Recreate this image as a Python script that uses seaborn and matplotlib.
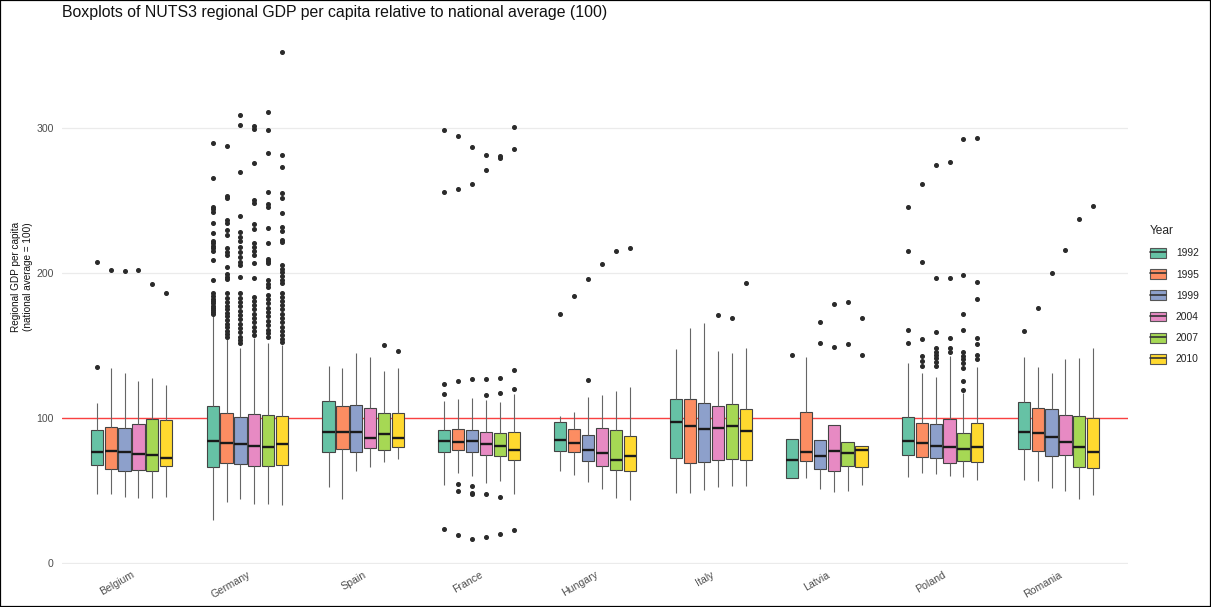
import numpy as np
import pandas as pd
import matplotlib
matplotlib.use("Agg")
import matplotlib.pyplot as plt
from matplotlib.patches import Patch, Rectangle
from matplotlib.lines import Line2D
import seaborn as sns

# ---------------- data ----------------
countries = ["Belgium", "Germany", "Spain", "France", "Hungary",
             "Italy", "Latvia", "Poland", "Romania"]
years = ["1992", "1995", "1999", "2004", "2007", "2010"]

# five-number summaries per country (rows) and year (columns)
whisk_lo = [
    [47.1, 47.1, 45.5, 44.6, 44.6, 45.3],
    [29.4, 42.0, 43.9, 40.4, 40.4, 39.7],
    [52.0, 43.7, 63.5, 65.8, 69.2, 71.3],
    [53.6, 62.1, 59.8, 54.7, 56.3, 47.5],
    [63.2, 60.5, 55.8, 50.6, 44.4, 43.4],
    [47.8, 47.8, 49.9, 52.4, 52.9, 53.1],
    [58.6, 58.2, 50.6, 48.9, 49.4, 53.6],
    [59.3, 61.6, 61.0, 60.0, 58.9, 57.0],
    [56.8, 56.3, 51.7, 49.4, 43.9, 46.4],
]
q1 = [
    [67.2, 64.6, 63.4, 64.1, 63.4, 66.7],
    [65.8, 68.6, 68.3, 66.7, 66.9, 67.6],
    [76.2, 78.2, 76.6, 79.1, 77.5, 79.6],
    [76.2, 78.0, 76.6, 74.3, 73.8, 70.8],
    [77.3, 76.2, 69.9, 66.5, 63.7, 63.4],
    [72.2, 68.8, 69.5, 70.6, 71.3, 70.6],
    [58.6, 70.1, 64.4, 63.5, 66.5, 66.2],
    [74.3, 72.7, 72.0, 69.0, 70.1, 69.7],
    [78.6, 76.8, 73.8, 74.3, 65.8, 65.1],
]
median = [
    [76.2, 77.1, 76.6, 75.0, 74.3, 72.4],
    [83.8, 82.4, 81.7, 80.7, 80.0, 82.1],
    [90.4, 90.0, 90.0, 86.3, 88.6, 86.3],
    [84.0, 83.1, 84.0, 82.1, 80.7, 77.7],
    [84.4, 82.4, 77.7, 75.5, 71.1, 73.6],
    [96.9, 94.1, 92.0, 93.0, 94.1, 90.7],
    [70.8, 76.6, 73.4, 77.3, 75.5, 77.7],
    [84.2, 82.4, 80.7, 80.0, 78.4, 80.0],
    [90.2, 89.5, 86.7, 83.1, 80.0, 76.6],
]
q3 = [
    [91.4, 93.4, 92.7, 95.9, 99.2, 98.3],
    [107.9, 103.1, 100.8, 102.4, 101.9, 101.2],
    [111.6, 108.2, 108.8, 107.0, 103.3, 103.3],
    [91.4, 92.5, 91.8, 90.0, 89.3, 90.0],
    [97.3, 92.5, 88.1, 93.2, 91.8, 87.6],
    [113.0, 112.8, 110.4, 108.2, 109.3, 105.9],
    [85.1, 103.8, 84.4, 94.8, 83.1, 80.3],
    [100.8, 96.2, 95.5, 99.0, 89.3, 96.2],
    [110.7, 106.8, 106.3, 102.1, 101.5, 99.7],
]
whisk_hi = [
    [110.4, 134.2, 130.7, 125.4, 127.3, 122.7],
    [170.5, 154.5, 148.0, 155.0, 151.5, 150.5],
    [135.8, 134.4, 144.6, 142.2, 132.6, 134.2],
    [111.8, 113.0, 113.7, 112.3, 110.7, 116.2],
    [101.2, 103.8, 114.4, 115.5, 118.5, 121.3],
    [147.5, 162.1, 165.3, 145.9, 144.6, 148.0],
    [85.1, 142.2, 84.4, 94.8, 83.1, 80.3],
    [137.6, 131.0, 128.4, 142.7, 116.9, 134.9],
    [142.0, 134.9, 130.7, 140.8, 141.1, 148.0],
]

# outlying regions per country, one list per year
out_belgium = [[134.9, 207.5], [202.1], [201.5], [202.1], [192.3], [186.2]]
out_germany = [
    [290.1, 265.5, 245.9, 244.1, 242.4, 234.4, 227.5, 222.2, 220.6, 218.7, 217.1,
     215.3, 209.1, 195.2, 186.0, 184.0, 182.0, 180.5, 179.0, 177.5, 176.0, 174.5,
     173.0, 172.0],
    [287.8, 253.3, 251.7, 236.7, 234.9, 229.8, 226.3, 217.1, 214.8, 212.5, 204.0,
     199.2, 197.5, 195.7, 186.0, 183.0, 180.0, 177.5, 175.0, 172.5, 170.0, 167.5,
     165.0, 162.5, 160.0, 158.0, 156.0],
    [309.3, 301.9, 269.7, 239.7, 228.6, 225.0, 222.0, 218.3, 214.8, 211.0, 207.5,
     205.6, 197.5, 186.0, 183.0, 180.0, 177.0, 174.0, 171.0, 168.0, 165.0, 162.0,
     159.0, 156.0, 153.5, 151.6],
    [301.2, 299.4, 276.3, 250.5, 248.6, 233.7, 230.3, 220.8, 218.0, 215.0, 212.5,
     207.0, 196.6, 183.7, 181.0, 178.0, 175.0, 172.0, 169.0, 166.0, 163.0, 160.0,
     157.0],
    [311.3, 299.1, 283.0, 256.0, 247.5, 245.9, 231.0, 220.6, 210.0, 208.5, 207.0,
     195.0, 192.5, 190.6, 185.0, 182.0, 179.0, 176.0, 173.0, 170.0, 167.0, 164.0,
     161.0, 158.5, 156.0],
    [352.8, 281.6, 273.1, 255.6, 252.1, 241.3, 232.1, 229.1, 222.9, 221.3, 205.6,
     203.0, 200.5, 198.0, 195.5, 193.2, 186.0, 183.7, 181.0, 178.0, 175.0, 172.0,
     169.0, 166.0, 163.0, 160.0, 157.0, 154.5, 152.5],
]
out_spain = [[], [], [], [], [150.3], [146.4]]
out_france = [
    [298.7, 256.3, 123.6, 116.7, 23.4],
    [294.5, 258.3, 125.2, 54.0, 49.4, 18.8],
    [287.1, 261.6, 127.0, 52.7, 48.2, 47.1, 16.2],
    [281.4, 271.3, 126.6, 116.0, 47.5, 17.4],
    [280.5, 279.1, 127.3, 117.1, 45.3, 19.9],
    [300.8, 286.0, 133.0, 120.1, 22.7],
]
out_hungary = [[171.5], [184.0], [195.9, 126.1], [206.5], [215.1], [217.6]]
out_italy = [[], [], [], [170.8], [169.2], [193.2]]
out_latvia = [[143.4], [], [166.2, 151.7], [178.4, 149.2], [179.8, 150.8],
              [168.8, 143.4]]
out_poland = [
    [245.7, 215.1, 160.5, 151.9],
    [261.8, 207.9, 154.5, 142.7, 139.3, 135.8],
    [274.9, 196.4, 159.1, 148.0, 145.7, 143.4, 141.1, 138.8, 135.8],
    [277.0, 196.8, 154.9, 148.0, 145.7],
    [292.5, 198.7, 171.7, 160.5, 145.3, 142.7, 140.4, 137.7, 134.2, 125.4, 119.0],
    [293.2, 194.1, 182.1, 154.9, 151.0, 143.4, 140.4],
]
out_romania = [[160.2], [176.1], [200.1], [216.2], [237.4], [246.2]]

outliers = [out_belgium, out_germany, out_spain, out_france, out_hungary,
            out_italy, out_latvia, out_poland, out_romania]

palette = ["#66C2A5", "#FC8D62", "#8DA0CB", "#E78AC3", "#A6D854", "#FFD92F"]

# ------------- long table whose quartiles/whiskers reproduce the summaries -------------
rows = []
for ci, c in enumerate(countries):
    for yi, yr in enumerate(years):
        outs = outliers[ci][yi]
        n_lo = 1 + sum(v < q1[ci][yi] for v in outs)
        n_hi = 1 + sum(v > q3[ci][yi] for v in outs)
        m = 3 * (n_lo + n_hi) + 5
        vals = (list(outs) + [whisk_lo[ci][yi]] + [q1[ci][yi]] * m
                + [median[ci][yi]] * m + [q3[ci][yi]] * m + [whisk_hi[ci][yi]])
        rows += [(c, yr, v) for v in vals]
df = pd.DataFrame(rows, columns=["country", "year", "value"])

# ---------------- figure ----------------
sns.set_style("white")
plt.rcParams["font.family"] = ["Liberation Sans", "DejaVu Sans"]

fig = plt.figure(figsize=(12.11, 6.07), dpi=100)
ax = fig.add_axes([62 / 1211, 1 - 564 / 607, (1128 - 62) / 1211, (564 - 27) / 607])

ax.yaxis.grid(True, color="#EBEBEB", linewidth=0.9)
ax.xaxis.grid(False)
ax.set_axisbelow(True)
ax.axhline(100, color="#FF0000", linewidth=1.0, alpha=0.72, zorder=1.5)

sns.boxplot(data=df, x="country", y="value", hue="year",
            order=countries, hue_order=years, palette=palette, saturation=1,
            width=0.72, gap=0.12, whis=1.5, linecolor="#444444", linewidth=0.8,
            fliersize=2.6,
            flierprops=dict(marker="o", markerfacecolor="#2a2a2a",
                            markeredgecolor="#2a2a2a"),
            medianprops=dict(color="#1a1a1a", linewidth=1.7),
            whiskerprops=dict(color="#666666", linewidth=0.8),
            capprops=dict(linewidth=0),
            legend=False, ax=ax)

ax.set_xlim(-0.6, len(countries) - 0.4)
ax.set_ylim(-0.9, 369.9)
ax.set_yticks([0, 100, 200, 300])
sns.despine(ax=ax, left=True, bottom=True)
ax.tick_params(axis="both", length=0, labelsize=7.6, labelcolor="#4D4D4D")
ax.tick_params(axis="y", pad=6.0)
ax.tick_params(axis="x", pad=4)
for lab in ax.get_xticklabels():
    lab.set_rotation(30)
    lab.set_ha("right")
    lab.set_va("top")
    lab.set_rotation_mode("anchor")

ax.set_xlabel("")
ax.set_ylabel("Regional GDP per capita\n(national average = 100)",
              fontsize=7.2, color="#111111")
ax.yaxis.set_label_coords((33 - 62) / 1066, (564 - 277) / 537)

fig.text(62 / 1211, 1 - 13 / 607,
         "Boxplots of NUTS3 regional GDP per capita relative to national average (100)",
         ha="left", va="center", fontsize=11.4, color="#111111")

handles = [(Patch(facecolor=col, edgecolor="#555555", linewidth=0.8),
            Line2D([], [], color="#333333", linewidth=1.2)) for col in palette]
leg = ax.legend(handles, years, title="Year", loc="upper left",
                bbox_to_anchor=(1145 / 1211, 1 - 220 / 607),
                bbox_transform=fig.transFigure, frameon=False,
                fontsize=7.4, title_fontsize=8.6, borderpad=0,
                handlelength=1.55, handleheight=1.1, labelspacing=1.05,
                handletextpad=0.95, alignment="left")
for t in leg.get_texts():
    t.set_color("#222222")

fig.add_artist(Rectangle((0, 0), 1, 1, transform=fig.transFigure, fill=False,
                         edgecolor="black", linewidth=1.6))

fig.savefig("out.png", dpi=100)
